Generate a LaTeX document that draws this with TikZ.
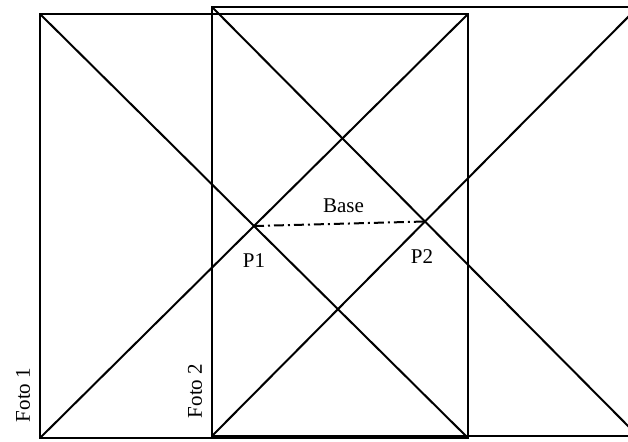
\documentclass[tikz,border=0pt]{standalone}
\usepackage{fontspec}
\setmainfont{Liberation Serif}
\usetikzlibrary{calc}
\begin{document}
\begin{tikzpicture}[x=0.5pt,y=-0.5pt,line width=1pt,
  lbl/.style={font=\fontsize{10.5}{12}\selectfont, inner sep=0pt}]
  % Frame
  \useasboundingbox (0,0) rectangle (628,441);
  \clip (0,0) rectangle (628,441);
  % Photo corners
  \coordinate (a1) at (40,14);
  \coordinate (a2) at (468,14);
  \coordinate (a3) at (468,438);
  \coordinate (a4) at (40,438);
  \coordinate (b1) at (212,7);
  \coordinate (b2) at (638,7);
  \coordinate (b3) at (638,436);
  \coordinate (b4) at (212,436);
  % Outlines and diagonals
  \foreach \ph in {a,b} {
    \draw (\ph1) -- (\ph2) -- (\ph3) -- (\ph4) -- cycle;
    \draw (\ph1) -- (\ph3);
    \draw (\ph2) -- (\ph4);
  }
  % Principal points and base
  \coordinate (p1) at ($(a1)!0.5!(a3)$);
  \coordinate (p2) at ($(b1)!0.5!(b3)$);
  \draw[dash pattern=on 5pt off 2pt on 1pt off 2pt] (p1) -- (p2);
  \node[lbl] (base) at ([xshift=2pt,yshift=9pt]$(p1)!0.5!(p2)$) {Base};
  \node[lbl] (lp1) at ([yshift=-17.5pt]p1) {P1};
  \node[lbl] (lp2) at ([xshift=-1.5pt,yshift=-17.5pt]p2) {P2};
  % Photo names
  \node[lbl, rotate=90] (f1) at ([xshift=-8.5pt,yshift=21.5pt]a4) {Foto 1};
  \node[lbl, rotate=90] (f2) at ([xshift=-8.5pt,yshift=22.5pt]b4) {Foto 2};
\end{tikzpicture}
\end{document}
